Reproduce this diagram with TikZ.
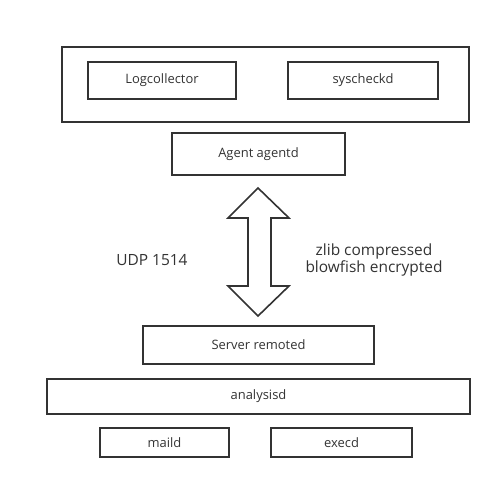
\documentclass[tikz,border=0pt]{standalone}
\usepackage{fontspec}
\setmainfont{Open Sans}
\begin{document}
\begin{tikzpicture}[x=1bp,y=-1bp,
  box/.style={draw=black!80,line width=1.6bp},
  lbl/.style={font=\fontsize{13}{15}\selectfont,text=black!80},
  big/.style={font=\fontsize{15.5}{18}\selectfont,text=black!80}]
\useasboundingbox[fill=white] (0,0) rectangle (502,488);
% agent container
\draw[box] (62,47) rectangle (469,122);
\draw[box] (88,62) rectangle (236,99) node[lbl,midway] (logc) {Logcollector};
\draw[box] (288,62) rectangle (438,99) node[lbl,midway] (sysc) {syscheckd};
\draw[box] (172,133) rectangle (345,175) node[lbl,midway] (agentd) {Agent agentd};
% double arrow
\draw[box,line join=miter] (258,188) -- (289,218) -- (271,218) -- (271,286) -- (289,286)
  -- (258,316) -- (228,286) -- (248,286) -- (248,218) -- (228,218) -- cycle;
\node[big] (udp) at (152,260) {UDP 1514};
\node[big,align=center,inner sep=0pt] (enc) at (374,260)
  {zlib compressed\\[-1pt]blowfish encrypted};
% server
\draw[box] (143,326) rectangle (374,364) node[lbl,midway] (remoted) {Server remoted};
\draw[box] (47,379) rectangle (470,414) node[lbl,midway] (analysisd) {analysisd};
\draw[box] (100,428) rectangle (229,457) node[lbl,midway] (maild) {maild};
\draw[box] (271,428) rectangle (412,457) node[lbl,midway] (execd) {execd};
\end{tikzpicture}
\end{document}
